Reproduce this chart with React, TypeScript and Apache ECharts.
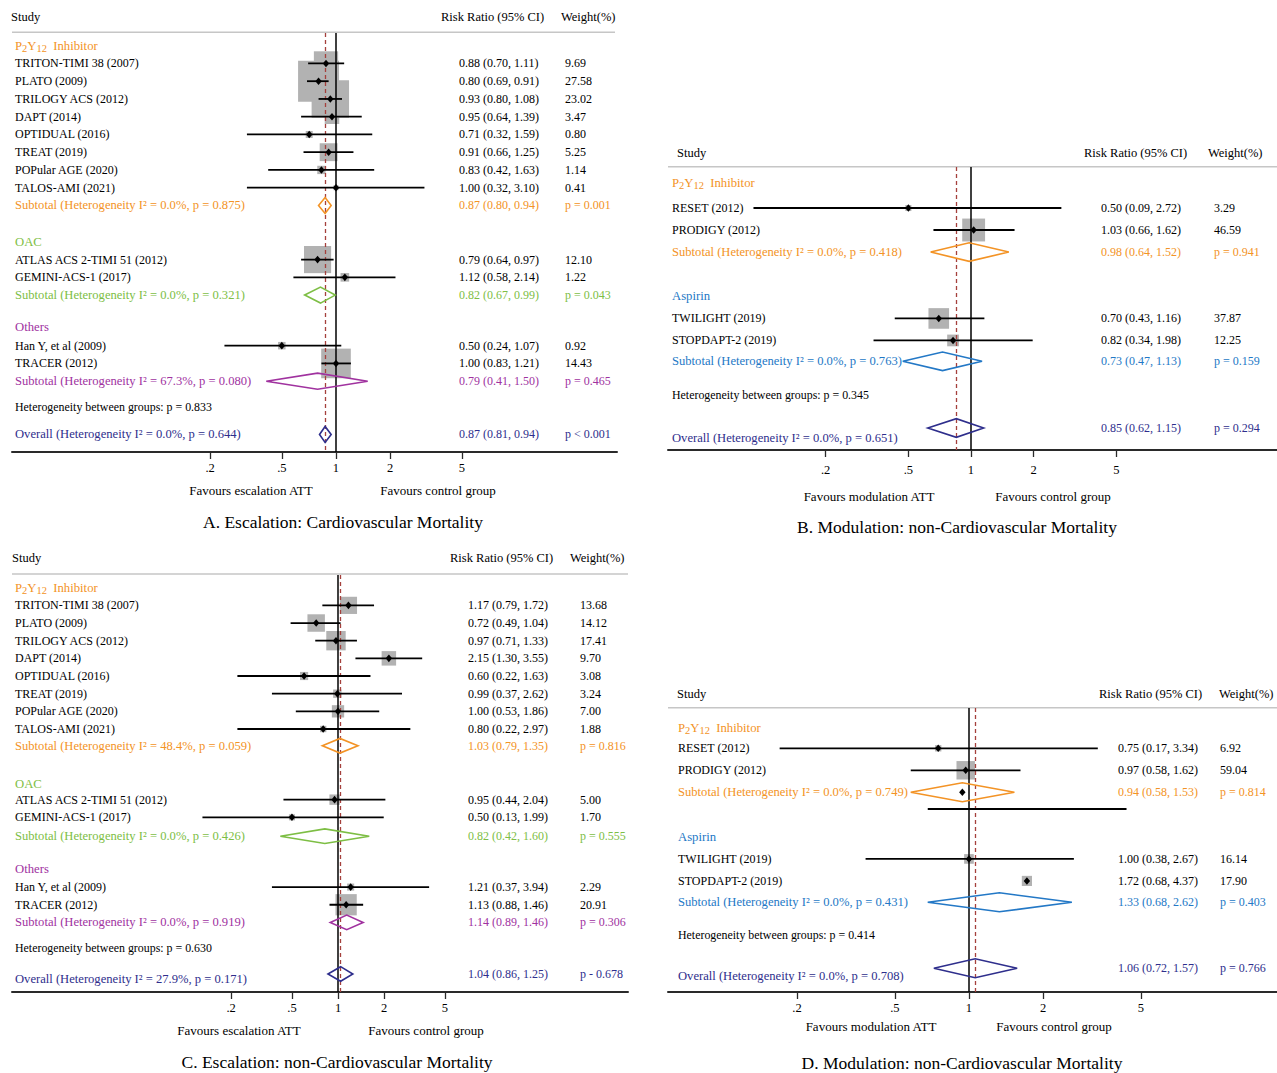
import React, { useEffect, useRef } from "react";
import * as echarts from "echarts";

const FONT = "'Liberation Serif', 'Times New Roman', Times, serif";
const ORANGE = "#F39325";
const GREEN = "#7DBE44";
const PURPLE = "#A0329F";
const BLUE = "#2378C6";
const NAVY = "#2E2E8C";
const INK = "#000000";
const BOX = "#B2B2B2";
const REFRED = "#A5403C";

const TICKS = [0.2, 0.5, 1, 2, 5];
const HEADERS = ["Study", "Risk Ratio (95% CI)", "Weight(%)"];
const GROUP_COLORS: Record<string, string> = {
  "P2Y12 Inhibitor": ORANGE,
  OAC: GREEN,
  Others: PURPLE,
  Aspirin: BLUE,
};

type StudyRow = [string, number, number, number, number]; // name, RR, lower, upper, weight %
type SubRow = [string, string, number, number, number, string]; // I², p(het), RR, lower, upper, p

// ---------- Panel A ----------
const A_TITLE = "A. Escalation: Cardiovascular Mortality";
const A_FAVOURS = ["Favours escalation ATT", "Favours control group"];
const A_GROUPS = ["P2Y12 Inhibitor", "OAC", "Others"];
const A_P2Y12: StudyRow[] = [
  ["TRITON-TIMI 38 (2007)", 0.88, 0.7, 1.11, 9.69],
  ["PLATO (2009)", 0.8, 0.69, 0.91, 27.58],
  ["TRILOGY ACS (2012)", 0.93, 0.8, 1.08, 23.02],
  ["DAPT (2014)", 0.95, 0.64, 1.39, 3.47],
  ["OPTIDUAL (2016)", 0.71, 0.32, 1.59, 0.8],
  ["TREAT (2019)", 0.91, 0.66, 1.25, 5.25],
  ["POPular AGE (2020)", 0.83, 0.42, 1.63, 1.14],
  ["TALOS-AMI (2021)", 1.0, 0.32, 3.1, 0.41],
];
const A_OAC: StudyRow[] = [
  ["ATLAS ACS 2-TIMI 51 (2012)", 0.79, 0.64, 0.97, 12.1],
  ["GEMINI-ACS-1 (2017)", 1.12, 0.58, 2.14, 1.22],
];
const A_OTHERS: StudyRow[] = [
  ["Han Y, et al (2009)", 0.5, 0.24, 1.07, 0.92],
  ["TRACER (2012)", 1.0, 0.83, 1.21, 14.43],
];
const A_SUBTOTALS: SubRow[] = [
  ["0.0%", "0.875", 0.87, 0.8, 0.94, "p = 0.001"],
  ["0.0%", "0.321", 0.82, 0.67, 0.99, "p = 0.043"],
  ["67.3%", "0.080", 0.79, 0.41, 1.5, "p = 0.465"],
];
const A_BETWEEN = "0.833";
const A_OVERALL: SubRow = ["0.0%", "0.644", 0.87, 0.81, 0.94, "p < 0.001"];

// ---------- Panel B ----------
const B_TITLE = "B. Modulation: non-Cardiovascular Mortality";
const B_FAVOURS = ["Favours modulation ATT", "Favours control group"];
const B_GROUPS = ["P2Y12 Inhibitor", "Aspirin"];
const B_P2Y12: StudyRow[] = [
  ["RESET (2012)", 0.5, 0.09, 2.72, 3.29],
  ["PRODIGY (2012)", 1.03, 0.66, 1.62, 46.59],
];
const B_ASPIRIN: StudyRow[] = [
  ["TWILIGHT (2019)", 0.7, 0.43, 1.16, 37.87],
  ["STOPDAPT-2 (2019)", 0.82, 0.34, 1.98, 12.25],
];
const B_SUBTOTALS: SubRow[] = [
  ["0.0%", "0.418", 0.98, 0.64, 1.52, "p = 0.941"],
  ["0.0%", "0.763", 0.73, 0.47, 1.13, "p = 0.159"],
];
const B_BETWEEN = "0.345";
const B_OVERALL: SubRow = ["0.0%", "0.651", 0.85, 0.62, 1.15, "p = 0.294"];

// ---------- Panel C ----------
const C_TITLE = "C. Escalation: non-Cardiovascular Mortality";
const C_FAVOURS = ["Favours escalation ATT", "Favours control group"];
const C_GROUPS = ["P2Y12 Inhibitor", "OAC", "Others"];
const C_P2Y12: StudyRow[] = [
  ["TRITON-TIMI 38 (2007)", 1.17, 0.79, 1.72, 13.68],
  ["PLATO (2009)", 0.72, 0.49, 1.04, 14.12],
  ["TRILOGY ACS (2012)", 0.97, 0.71, 1.33, 17.41],
  ["DAPT (2014)", 2.15, 1.3, 3.55, 9.7],
  ["OPTIDUAL (2016)", 0.6, 0.22, 1.63, 3.08],
  ["TREAT (2019)", 0.99, 0.37, 2.62, 3.24],
  ["POPular AGE (2020)", 1.0, 0.53, 1.86, 7.0],
  ["TALOS-AMI (2021)", 0.8, 0.22, 2.97, 1.88],
];
const C_OAC: StudyRow[] = [
  ["ATLAS ACS 2-TIMI 51 (2012)", 0.95, 0.44, 2.04, 5.0],
  ["GEMINI-ACS-1 (2017)", 0.5, 0.13, 1.99, 1.7],
];
const C_OTHERS: StudyRow[] = [
  ["Han Y, et al (2009)", 1.21, 0.37, 3.94, 2.29],
  ["TRACER (2012)", 1.13, 0.88, 1.46, 20.91],
];
const C_SUBTOTALS: SubRow[] = [
  ["48.4%", "0.059", 1.03, 0.79, 1.35, "p = 0.816"],
  ["0.0%", "0.426", 0.82, 0.42, 1.6, "p = 0.555"],
  ["0.0%", "0.919", 1.14, 0.89, 1.46, "p = 0.306"],
];
const C_BETWEEN = "0.630";
const C_OVERALL: SubRow = ["27.9%", "0.171", 1.04, 0.86, 1.25, "p - 0.678"];

// ---------- Panel D ----------
const D_TITLE = "D. Modulation: non-Cardiovascular Mortality";
const D_FAVOURS = ["Favours modulation ATT", "Favours control group"];
const D_GROUPS = ["P2Y12 Inhibitor", "Aspirin"];
const D_P2Y12: StudyRow[] = [
  ["RESET (2012)", 0.75, 0.17, 3.34, 6.92],
  ["PRODIGY (2012)", 0.97, 0.58, 1.62, 59.04],
];
const D_ASPIRIN: StudyRow[] = [
  ["TWILIGHT (2019)", 1.0, 0.38, 2.67, 16.14],
  ["STOPDAPT-2 (2019)", 1.72, 0.68, 4.37, 17.9],
];
const D_SUBTOTALS: SubRow[] = [
  ["0.0%", "0.749", 0.94, 0.58, 1.53, "p = 0.814"],
  ["0.0%", "0.431", 1.33, 0.68, 2.62, "p = 0.403"],
];
const D_BETWEEN = "0.414";
const D_OVERALL: SubRow = ["0.0%", "0.708", 1.06, 0.72, 1.57, "p = 0.766"];

// ---------- Layouts (positions and sizes only) ----------
type Layout = {
  grid: { left: number; top: number; width: number; height: number };
  xMin: number; xMax: number; yMin: number; yMax: number;
  labelMargin: number;
  cols: { name: number; rr: number; w: number };
  header: { y: number; study: number; rr: number; w: number; lineY: number; x1: number; x2: number };
  favours: { y: number; left: number; right: number };
  title: { x: number; y: number };
  boxScale: number; diamondHalf: number;
  groupRows: { head: number; first: number; sub: number }[];
  hetRow: number; overallRow: number; overallLabelShift: number;
  ciRows?: Record<string, number>;
  dotSubtotals?: number[];
};

const LAYOUT_A: Layout = {
  grid: { left: 12, top: 33, width: 605, height: 419 },
  xMin: 0.01585, xMax: 36.4, yMin: -0.715, yMax: 22.89, labelMargin: 9,
  cols: { name: 3, rr: 447, w: 553 },
  header: { y: 17.3, study: 11, rr: 441, w: 561, lineY: 32.3, x1: 12, x2: 615 },
  favours: { y: 490.7, left: 251, right: 438 },
  title: { x: 343, y: 521.7 },
  boxScale: 7.8, diamondHalf: 8,
  groupRows: [
    { head: 0, first: 1, sub: 9 },
    { head: 11.05, first: 12.05, sub: 14.05 },
    { head: 15.85, first: 16.9, sub: 18.9 },
  ],
  hetRow: 20.35, overallRow: 21.9, overallLabelShift: 0,
};
const LAYOUT_B: Layout = {
  grid: { left: 668, top: 167, width: 609, height: 283 },
  xMin: 0.03494, xMax: 29.6, yMin: -0.864, yMax: 12.0, labelMargin: 13,
  cols: { name: 4, rr: 433, w: 546 },
  header: { y: 153, study: 677, rr: 1084, w: 1208, lineY: 166.7, x1: 668, x2: 1277 },
  favours: { y: 496, left: 869, right: 1053 },
  title: { x: 957, y: 526.7 },
  boxScale: 3.35, diamondHalf: 9.3,
  groupRows: [
    { head: -0.12, first: 1, sub: 3 },
    { head: 5, first: 6.02, sub: 7.97 },
  ],
  hetRow: 9.5, overallRow: 11, overallLabelShift: 0.45,
};
const LAYOUT_C: Layout = {
  grid: { left: 12, top: 575, width: 616, height: 417 },
  xMin: 0.0074, xMax: 78.6, yMin: -0.719, yMax: 22.89, labelMargin: 9,
  cols: { name: 3, rr: 456, w: 568 },
  header: { y: 558.3, study: 12, rr: 450, w: 570, lineY: 574, x1: 12, x2: 628 },
  favours: { y: 1030, left: 239, right: 426 },
  title: { x: 337, y: 1062 },
  boxScale: 4.65, diamondHalf: 7.3,
  groupRows: [
    { head: 0, first: 1, sub: 8.95 },
    { head: 11.1, first: 12, sub: 14.07 },
    { head: 15.93, first: 16.95, sub: 18.95 },
  ],
  hetRow: 20.4, overallRow: 21.87, overallLabelShift: 0.3,
};
const LAYOUT_D: Layout = {
  grid: { left: 668, top: 708, width: 609, height: 284 },
  xMin: 0.0598, xMax: 17.87, yMin: -0.832, yMax: 12.08, labelMargin: 9,
  cols: { name: 10, rr: 450, w: 552 },
  header: { y: 694, study: 677, rr: 1099, w: 1219, lineY: 707.7, x1: 668, x2: 1277 },
  favours: { y: 1026.7, left: 871, right: 1054 },
  title: { x: 962, y: 1062.7 },
  boxScale: 2.4, diamondHalf: 9.5,
  groupRows: [
    { head: 0.09, first: 1, sub: 3 },
    { head: 5.02, first: 6.03, sub: 8 },
  ],
  hetRow: 9.5, overallRow: 11, overallLabelShift: 0.35,
  ciRows: { "STOPDAPT-2 (2019)": 3.76 },
  dotSubtotals: [0],
};

type Row = {
  kind: "group" | "study" | "subtotal" | "het" | "overall";
  row: number; label: string; color: string;
  est?: number; lo?: number; hi?: number; w?: number; p?: string;
  ciRow?: number; dot?: boolean; labelShift?: number;
};

type Panel = { L: Layout; rows: Row[]; title: string; favours: string[]; overallEst: number };

function buildPanel(
  L: Layout, title: string, favours: string[], groups: string[], studies: StudyRow[][],
  subs: SubRow[], between: string, overall: SubRow
): Panel {
  const rows: Row[] = [];
  groups.forEach((g, gi) => {
    const gl = L.groupRows[gi];
    const color = GROUP_COLORS[g];
    rows.push({ kind: "group", row: gl.head, label: g, color });
    studies[gi].forEach((s, si) => {
      rows.push({
        kind: "study", row: gl.first + si, label: s[0], color: INK,
        est: s[1], lo: s[2], hi: s[3], w: s[4],
        ciRow: L.ciRows ? L.ciRows[s[0]] : undefined,
      });
    });
    const sb = subs[gi];
    rows.push({
      kind: "subtotal", row: gl.sub, color,
      label: `Subtotal (Heterogeneity I² = ${sb[0]}, p = ${sb[1]})`,
      est: sb[2], lo: sb[3], hi: sb[4], p: sb[5],
      dot: !!(L.dotSubtotals && L.dotSubtotals.includes(gi)),
    });
  });
  rows.push({ kind: "het", row: L.hetRow, color: INK, label: `Heterogeneity between groups: p = ${between}` });
  rows.push({
    kind: "overall", row: L.overallRow, color: NAVY,
    label: `Overall (Heterogeneity I² = ${overall[0]}, p = ${overall[1]})`,
    est: overall[2], lo: overall[3], hi: overall[4], p: overall[5],
    labelShift: L.overallLabelShift,
  });
  return { L, rows, title, favours, overallEst: overall[2] };
}

const PANELS: Panel[] = [
  buildPanel(LAYOUT_A, A_TITLE, A_FAVOURS, A_GROUPS, [A_P2Y12, A_OAC, A_OTHERS], A_SUBTOTALS, A_BETWEEN, A_OVERALL),
  buildPanel(LAYOUT_B, B_TITLE, B_FAVOURS, B_GROUPS, [B_P2Y12, B_ASPIRIN], B_SUBTOTALS, B_BETWEEN, B_OVERALL),
  buildPanel(LAYOUT_C, C_TITLE, C_FAVOURS, C_GROUPS, [C_P2Y12, C_OAC, C_OTHERS], C_SUBTOTALS, C_BETWEEN, C_OVERALL),
  buildPanel(LAYOUT_D, D_TITLE, D_FAVOURS, D_GROUPS, [D_P2Y12, D_ASPIRIN], D_SUBTOTALS, D_BETWEEN, D_OVERALL),
];

const f2 = (v: number) => v.toFixed(2);
const rrText = (r: Row) => `${f2(r.est!)} (${f2(r.lo!)}, ${f2(r.hi!)})`;

function textEl(x: number, y: number, text: string, fill: string, size: number, align = "left") {
  return {
    type: "text", x, y, silent: true,
    style: {
      text, fill, fontSize: size, fontFamily: FONT,
      align, verticalAlign: "middle", textAlign: align, textVerticalAlign: "middle",
    },
  };
}

function markerEl(cx: number, cy: number) {
  return {
    type: "polygon",
    shape: { points: [[cx - 3.2, cy], [cx, cy - 3.8], [cx + 3.2, cy], [cx, cy + 3.8]] },
    style: { fill: "#000" },
  };
}

function groupLabelEl(x: number, y: number, g: string, color: string) {
  if (g === "P2Y12 Inhibitor") {
    return {
      type: "text", x, y, silent: true,
      style: {
        text: "{m|P}{s|2}{m|Y}{s|12}{m|  Inhibitor}",
        verticalAlign: "middle", textVerticalAlign: "middle", align: "left", textAlign: "left",
        fontFamily: FONT, fontSize: 12.7, fill: color,
        rich: {
          m: { fontSize: 12.7, fontFamily: FONT, fill: color, color, lineHeight: 16 },
          s: { fontSize: 10.5, fontFamily: FONT, fill: color, color, lineHeight: 10, verticalAlign: "bottom" },
        },
      },
    };
  }
  return textEl(x, y, g, color, 12.7);
}

// Boxes (drawn beneath the reference lines)
function makeBoxRender(p: Panel) {
  const L = p.L;
  return (_params: any, api: any) => {
    const r = p.rows[api.value(2)];
    if (r.kind !== "study") return { type: "group", children: [] };
    const [cx, cy] = api.coord([r.est, r.row]);
    const s = L.boxScale * Math.sqrt(r.w!);
    return {
      type: "rect",
      shape: { x: cx - s / 2, y: cy - s / 2, width: s, height: s },
      style: { fill: BOX },
    };
  };
}

// Confidence intervals, markers, diamonds and text columns
function makeRenderItem(p: Panel) {
  const L = p.L;
  return (params: any, api: any) => {
    const r = p.rows[api.value(2)];
    const gx = params.coordSys.x;
    const cy = api.coord([1, r.row])[1];
    const kids: any[] = [];
    const nameX = gx + L.cols.name;
    const rrX = gx + L.cols.rr;
    const wX = gx + L.cols.w;
    if (r.kind === "group") {
      kids.push(groupLabelEl(nameX, cy, r.label, r.color));
    } else if (r.kind === "study") {
      const cx = api.coord([r.est, r.row])[0];
      const ly = api.coord([1, r.ciRow != null ? r.ciRow : r.row])[1];
      kids.push({
        type: "line",
        shape: { x1: api.coord([r.lo, r.row])[0], y1: ly, x2: api.coord([r.hi, r.row])[0], y2: ly },
        style: { stroke: "#000", lineWidth: 1.8 },
      });
      kids.push(markerEl(cx, cy));
      kids.push(textEl(nameX, cy, r.label, INK, 12));
      kids.push(textEl(rrX, cy, rrText(r), INK, 12));
      kids.push(textEl(wX, cy, f2(r.w!), INK, 12));
    } else if (r.kind === "subtotal" || r.kind === "overall") {
      const x0 = api.coord([r.lo, r.row])[0];
      const x1 = api.coord([r.hi, r.row])[0];
      const xc = api.coord([r.est, r.row])[0];
      const h = L.diamondHalf;
      kids.push({
        type: "polygon",
        shape: { points: [[x0, cy], [xc, cy - h], [x1, cy], [xc, cy + h]] },
        style: { fill: "none", stroke: r.color, lineWidth: 1.6 },
      });
      if (r.dot) kids.push(markerEl(xc, cy));
      const ly = api.coord([1, r.row + (r.labelShift || 0)])[1];
      kids.push(textEl(nameX, ly, r.label, r.color, 12.6));
      kids.push(textEl(rrX, cy, rrText(r), r.color, 12));
      kids.push(textEl(wX, cy, r.p!, r.color, 12));
    } else if (r.kind === "het") {
      kids.push(textEl(nameX, cy, r.label, INK, 11.9));
    }
    return { type: "group", children: kids };
  };
}

const tickFmt = (v: number) => {
  const s = String(+Number(v).toPrecision(6));
  return v < 1 ? s.replace(/^0/, "") : s;
};

function buildOption() {
  const graphics: any[] = [];
  PANELS.forEach((p) => {
    const H = p.L.header;
    graphics.push(textEl(H.study, H.y, HEADERS[0], INK, 12.5));
    graphics.push(textEl(H.rr, H.y, HEADERS[1], INK, 12.5));
    graphics.push(textEl(H.w, H.y, HEADERS[2], INK, 12.5));
    graphics.push({
      type: "line", silent: true,
      shape: { x1: H.x1, y1: H.lineY, x2: H.x2, y2: H.lineY },
      style: { stroke: "#C6C6C6", lineWidth: 1.6 },
    });
    const F = p.L.favours;
    graphics.push(textEl(F.left, F.y, p.favours[0], INK, 13, "center"));
    graphics.push(textEl(F.right, F.y, p.favours[1], INK, 13, "center"));
    graphics.push(textEl(p.L.title.x, p.L.title.y, p.title, INK, 17.5, "center"));
  });

  return {
    animation: false,
    backgroundColor: "#ffffff",
    grid: PANELS.map((p) => ({ ...p.L.grid, containLabel: false })),
    xAxis: PANELS.map((p, i) => ({
      type: "log",
      logBase: 10,
      gridIndex: i,
      min: p.L.xMin,
      max: p.L.xMax,
      axisLine: { show: true, onZero: false, lineStyle: { color: "#2a2a2a", width: 2 } },
      axisTick: { show: true, length: 7, customValues: TICKS, lineStyle: { color: "#2a2a2a", width: 1.3 } },
      axisLabel: {
        customValues: TICKS,
        formatter: tickFmt,
        margin: p.L.labelMargin,
        fontSize: 12.5,
        fontFamily: FONT,
        color: INK,
      },
      minorTick: { show: false },
      splitLine: { show: false },
    })),
    yAxis: PANELS.map((p, i) => ({
      type: "value",
      gridIndex: i,
      inverse: true,
      min: p.L.yMin,
      max: p.L.yMax,
      show: false,
      splitLine: { show: false },
    })),
    series: PANELS.flatMap((p, i) => [
      {
        type: "custom",
        xAxisIndex: i,
        yAxisIndex: i,
        z: 1,
        silent: true,
        clip: false,
        renderItem: makeBoxRender(p),
        encode: { x: 0, y: 1 },
        data: p.rows.map((r, k) => [r.est != null ? r.est : 1, r.row, k]),
      },
      {
        type: "line",
        xAxisIndex: i,
        yAxisIndex: i,
        data: [],
        silent: true,
        z: 3,
        markLine: {
          silent: true,
          z: 3,
          symbol: ["none", "none"],
          label: { show: false },
          animation: false,
          data: [
            { xAxis: 1, lineStyle: { color: "#000", width: 1.5, type: "solid" } },
            { xAxis: p.overallEst, lineStyle: { color: REFRED, width: 1.3, type: [4, 3] } },
          ],
        },
      },
      {
        type: "custom",
        xAxisIndex: i,
        yAxisIndex: i,
        z: 10,
        silent: true,
        clip: false,
        renderItem: makeRenderItem(p),
        encode: { x: 0, y: 1 },
        data: p.rows.map((r, k) => [r.est != null ? r.est : 1, r.row, k]),
      },
    ]),
    graphic: { elements: graphics },
  };
}

export default function App() {
  const ref = useRef<HTMLDivElement | null>(null);
  useEffect(() => {
    document.body.style.margin = "0";
    if (!ref.current) return;
    const chart = echarts.init(ref.current, undefined, { renderer: "svg" });
    chart.setOption(buildOption() as any);
    return () => chart.dispose();
  }, []);
  return <div ref={ref} style={{ width: 1277, height: 1073, background: "#fff" }} />;
}
